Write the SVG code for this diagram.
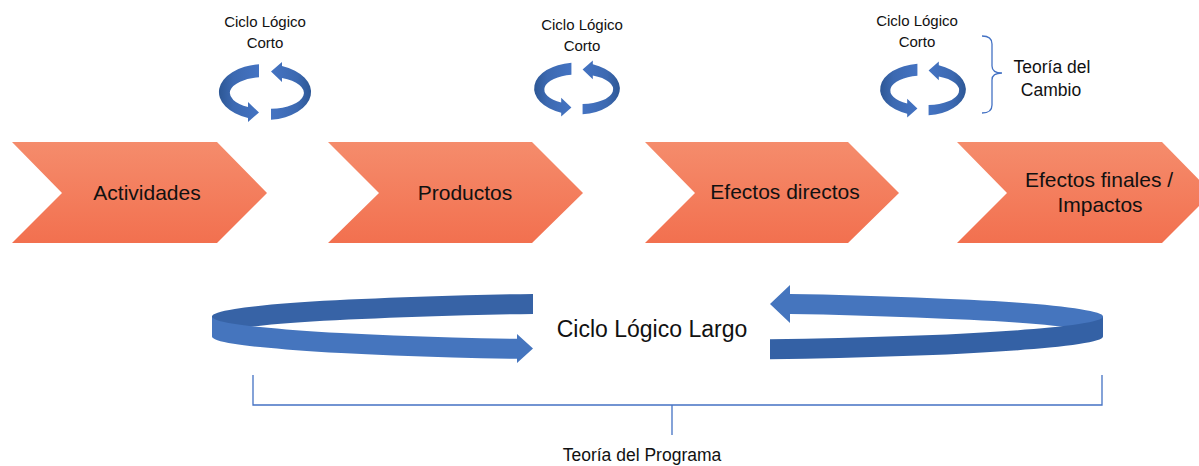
<svg xmlns="http://www.w3.org/2000/svg" width="1199" height="466" viewBox="0 0 1199 466">
<defs>
<linearGradient id="chev" x1="0" y1="0" x2="0" y2="1">
<stop offset="0" stop-color="#F58C6C"/>
<stop offset="1" stop-color="#F2704F"/>
</linearGradient>
<linearGradient id="arcL" x1="0" y1="0" x2="1" y2="0">
<stop offset="0" stop-color="#2D5795"/>
<stop offset="0.35" stop-color="#3C69B1"/>
<stop offset="1" stop-color="#4473C2"/>
</linearGradient>
<linearGradient id="arcR" x1="1" y1="0" x2="0" y2="0">
<stop offset="0" stop-color="#2D5795"/>
<stop offset="0.35" stop-color="#3C69B1"/>
<stop offset="1" stop-color="#4473C2"/>
</linearGradient>
<g id="cycle">
<path fill="url(#arcL)" d="M -6,-27.8 A 46 28 0 0 0 -17,26 L -17,30 L -6,20.5 L -17,10 L -17,15 A 35 16 0 0 1 -6,-14.8 Z"/>
<path fill="url(#arcR)" d="M 17,-26 A 46 28 0 0 1 6,27.8 L 6,16.8 A 35 16 0 0 0 17,-14 L 17,-10 L 6,-20.5 L 17,-30 Z"/>
</g>
</defs>
<style>
.lbl{font-family:"Liberation Sans",Arial,sans-serif;fill:#111;text-anchor:middle}
.chev{fill:url(#chev)}
.br{fill:none;stroke:#4472C4;stroke-width:1.3}
</style>

<g id="node-actividades">
<polygon class="chev" points="12,142 217,142 267,193 217,243 12,243 62,193"/>
<text class="lbl" x="147" y="200" font-size="21">Actividades</text>
</g>
<g id="node-productos">
<polygon class="chev" points="328,142 532,142 583,193 532,243 328,243 379,193"/>
<text class="lbl" x="465" y="200" font-size="21">Productos</text>
</g>
<g id="node-efectos-directos">
<polygon class="chev" points="645,142 848,142 899,193 848,243 645,243 695,193"/>
<text class="lbl" x="785" y="199" font-size="21">Efectos directos</text>
</g>
<g id="node-efectos-finales">
<polygon class="chev" points="957,142 1162,142 1212,193 1162,243 957,243 1007,193"/>
<text class="lbl" x="1099" y="187" font-size="21">Efectos finales /</text>
<text class="lbl" x="1100" y="212" font-size="21">Impactos</text>
</g>

<g id="cycle-corto-1">
<use href="#cycle" transform="translate(265,92)"/>
<text class="lbl" x="265" y="27" font-size="15">Ciclo Lógico</text>
<text class="lbl" x="265" y="48" font-size="15">Corto</text>
</g>
<g id="cycle-corto-2">
<use href="#cycle" transform="translate(577,88.5) scale(0.93)"/>
<text class="lbl" x="582" y="30" font-size="15">Ciclo Lógico</text>
<text class="lbl" x="582" y="51" font-size="15">Corto</text>
</g>
<g id="cycle-corto-3">
<use href="#cycle" transform="translate(923,89.5) scale(0.93)"/>
<text class="lbl" x="917" y="26" font-size="15">Ciclo Lógico</text>
<text class="lbl" x="917" y="47" font-size="15">Corto</text>
</g>

<g id="teoria-cambio">
<path class="br" d="M 982,36 Q 992,36 992,44 L 992,66 Q 992,73 1002,73 Q 992,73 992,80 L 992,105 Q 992,113 982,113"/>
<text class="lbl" x="1052" y="73" font-size="17.5">Teoría del</text>
<text class="lbl" x="1051" y="96" font-size="17.5">Cambio</text>
</g>

<g id="ciclo-largo">
<path fill="#3763A6" d="M 533,293.9 A 445.5 23.5 0 0 0 212,316.5 L 212,336.5 A 445.5 23.5 0 0 1 533,313.9 Z"/>
<path fill="#4575BE" d="M 212,316.5 A 445.5 23.5 0 0 0 517,338.8 L 517,334 L 533,348.5 L 517,363 L 517,358.8 A 445.5 23.5 0 0 1 212,336.5 Z"/>
<path fill="#4575BE" d="M 790,294.1 A 445.5 23.5 0 0 1 1103,316.5 L 1103,336.5 A 445.5 23.5 0 0 0 790,314.1 L 790,323 L 770,304 L 790,285 Z"/>
<path fill="#3461A5" d="M 1103,316.5 A 445.5 23.5 0 0 1 770,339.2 L 770,359.2 A 445.5 23.5 0 0 0 1103,336.5 Z"/>
<text class="lbl" x="652" y="337" font-size="23">Ciclo Lógico Largo</text>
</g>

<g id="teoria-programa">
<path class="br" d="M 253,375 L 253,405 L 1102,405 L 1102,375 M 672,405 L 672,435"/>
<text class="lbl" x="642" y="461" font-size="17.5">Teoría del Programa</text>
</g>
</svg>
